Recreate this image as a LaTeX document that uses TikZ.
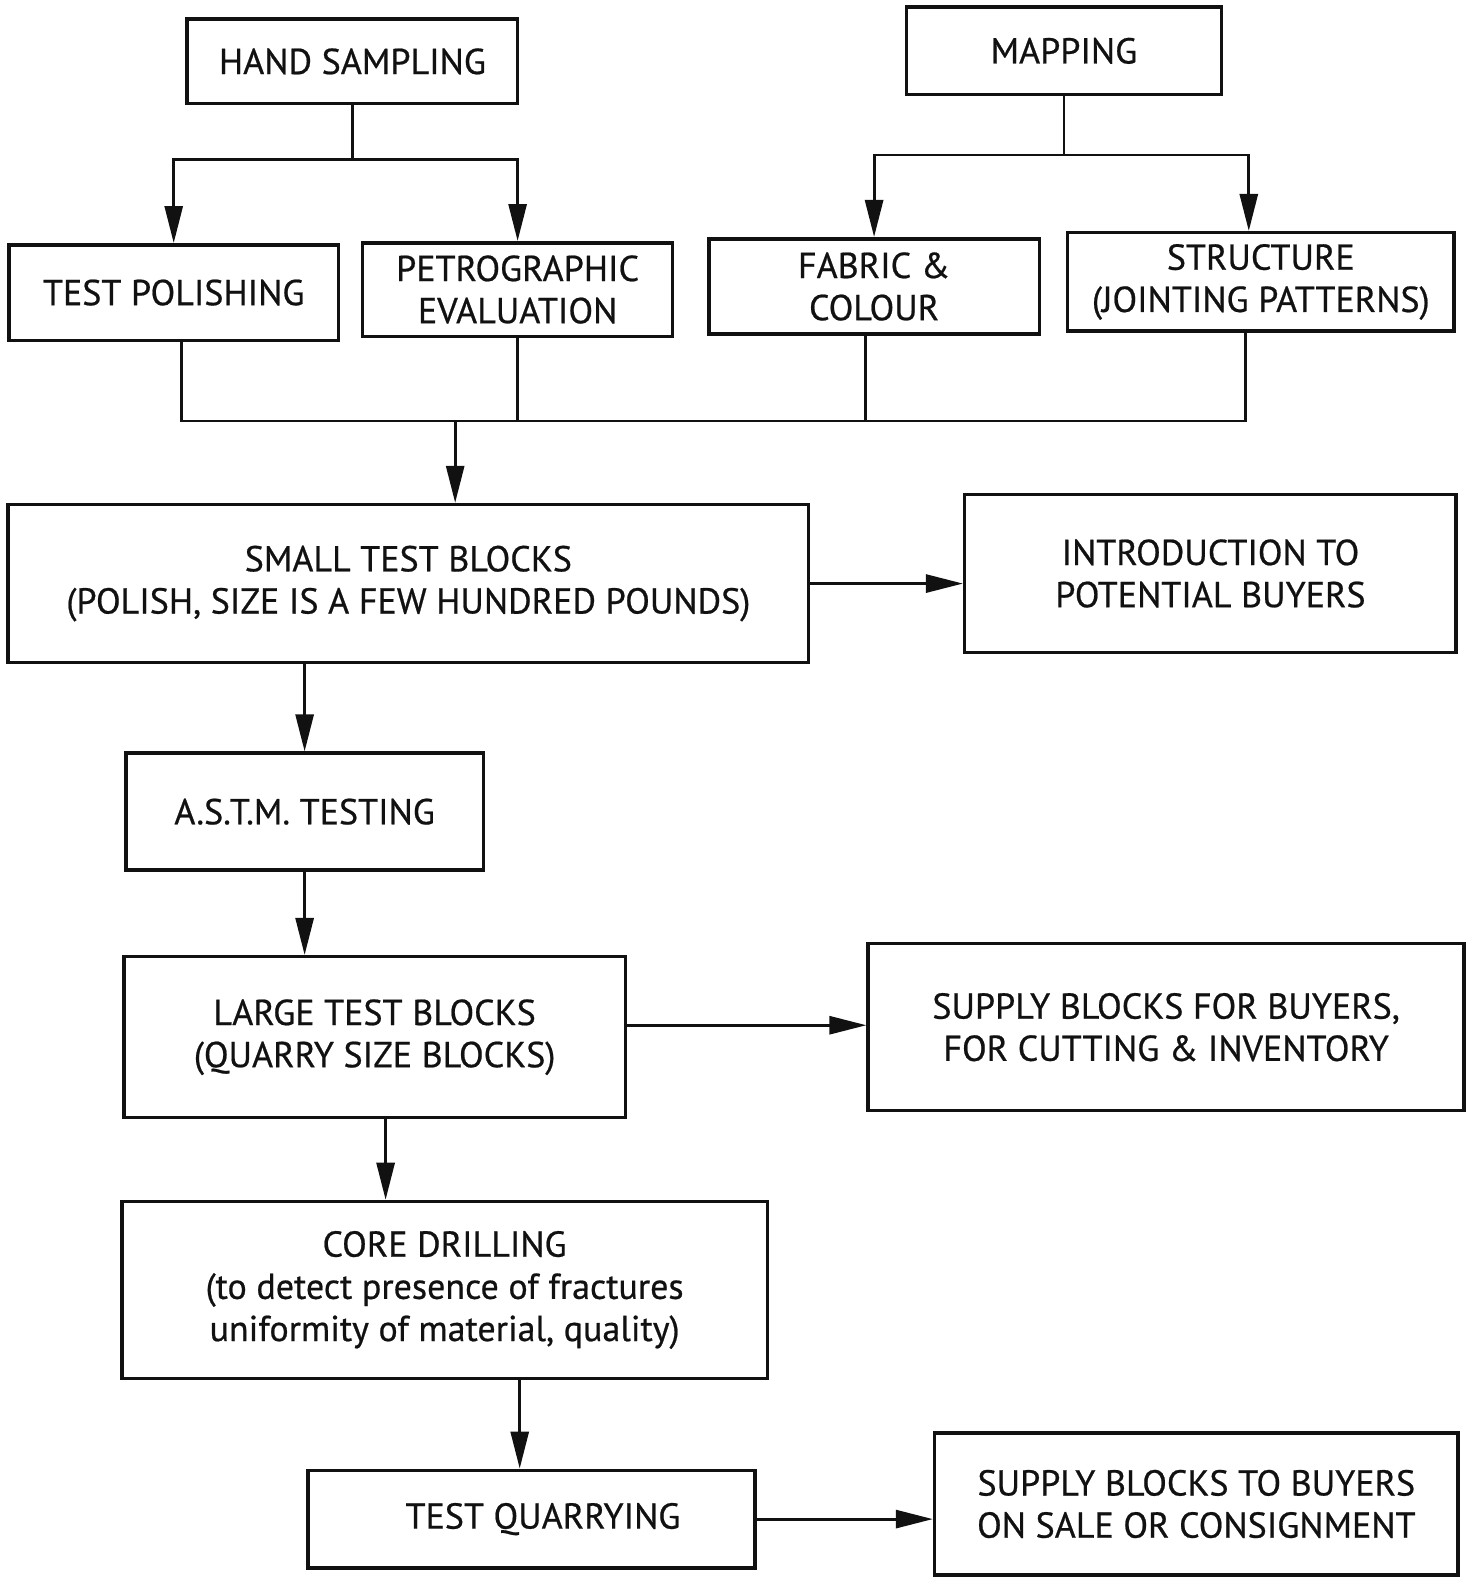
\documentclass[tikz,border=0pt]{standalone}
\usepackage{fontspec}
\setmainfont{PT Sans}[FakeBold=0.6]
\usepackage{tikz}
\usepackage{xcolor}
\usetikzlibrary{arrows.meta,positioning,calc}
\definecolor{ink}{HTML}{111111}

\begin{document}
\begin{tikzpicture}[x=0.02014cm,y=-0.02014cm,
    font=\fontsize{20.5}{24}\selectfont,
    >={Triangle[length=0.74cm,width=0.36cm]},
    blk/.style={draw=ink,line width=2pt,align=center,inner sep=0pt,text=ink},
    wire/.style={draw=ink,line width=1.6pt}]
  \useasboundingbox (0,0) rectangle (1462,1568);
  % top row
  \node[blk,minimum width=6.61cm,minimum height=1.69cm] (hs) at (350,61) {HAND SAMPLING};
  \node[blk,minimum width=6.30cm,minimum height=1.75cm] (map) at (1056.5,50.5) {MAPPING};
  % second row
  \node[blk,minimum width=6.59cm,minimum height=1.91cm] (tp) at (172.5,290.5) {TEST POLISHING};
  \node[blk,minimum width=6.20cm,minimum height=1.87cm] (pe) at (514,287.5) {PETROGRAPHIC\\EVALUATION};
  \node[blk,minimum width=6.61cm,minimum height=1.91cm] (fc) at (868,284.5) {FABRIC \&\\COLOUR};
  \node[blk,minimum width=7.73cm,minimum height=1.97cm] (st) at (1252,280) {STRUCTURE\\(JOINTING PATTERNS)};
  % main chain
  \node[blk,minimum width=16.01cm,minimum height=3.16cm] (stb) at (405.5,579.5)
    {SMALL TEST BLOCKS\\(POLISH, SIZE IS A FEW HUNDRED POUNDS)};
  \node[blk,minimum width=9.83cm,minimum height=3.16cm] (intro) at (1202,569.5)
    {INTRODUCTION TO\\POTENTIAL BUYERS};
  \node[blk,minimum width=7.15cm,minimum height=2.34cm] (astm) at (302.5,806) {A.S.T.M. TESTING};
  \node[blk,minimum width=10.03cm,minimum height=3.22cm] (ltb) at (372,1030)
    {LARGE TEST BLOCKS\\(QUARRY SIZE BLOCKS)};
  \node[blk,minimum width=11.92cm,minimum height=3.34cm] (supa) at (1158,1020)
    {SUPPLY BLOCKS FOR BUYERS,\\FOR CUTTING \& INVENTORY};
  \node[blk,minimum width=12.91cm,minimum height=3.54cm] (core) at (441.5,1281)
    {CORE DRILLING\\(to detect presence of fractures\\uniformity of material, quality)};
  \node[blk,minimum width=8.94cm,minimum height=1.95cm] (tq) at (528,1508.5) {\hspace*{0.45cm}TEST QUARRYING};
  \node[blk,minimum width=10.47cm,minimum height=2.84cm] (supb) at (1188,1493.5)
    {SUPPLY BLOCKS TO BUYERS\\ON SALE OR CONSIGNMENT};

  % branching from the top boxes
  \coordinate (hsj) at (350,158);
  \coordinate (mpj) at (1056.5,154);
  \draw[wire] (hs.south) -- (hsj);
  \draw[wire,->] (hsj) -| (tp.north);
  \draw[wire,->] (hsj) -| (pe.north);
  \draw[wire] (map.south) -- (mpj);
  \draw[wire,->] (mpj) -| (fc.north);
  \draw[wire,->] (mpj) -| ([xshift=-0.24cm]st.north);
  % collecting line
  \coordinate (col) at (452,418);
  \draw[wire] ([xshift=0.15cm]tp.south) |- ([xshift=-0.3cm]st.south |- col) -- ([xshift=-0.3cm]st.south);
  \draw[wire] (pe.south) -- (pe.south |- col);
  \draw[wire] ([xshift=-0.18cm]fc.south) -- ([xshift=-0.18cm]fc.south |- col);
  \draw[wire,->] (col) -- (col |- stb.north);
  % down the chain
  \coordinate (tqin) at ([xshift=-0.24cm]tq.north);
  \draw[wire,->] (stb.east) -- (stb.east -| intro.west);
  \draw[wire,->] (stb.south -| astm) -- (astm.north);
  \draw[wire,->] (astm.south) -- (astm.south |- ltb.north);
  \draw[wire,->] ([yshift=0.24cm]ltb.east) -- ([yshift=0.24cm]ltb.east -| supa.west);
  \draw[wire,->] ([xshift=0.22cm]ltb.south) -- ([xshift=0.22cm]ltb.south |- core.north);
  \draw[wire,->] (core.south -| tqin) -- (tqin);
  \draw[wire,->] (tq.east) -- (tq.east -| supb.west);
\end{tikzpicture}
\end{document}
